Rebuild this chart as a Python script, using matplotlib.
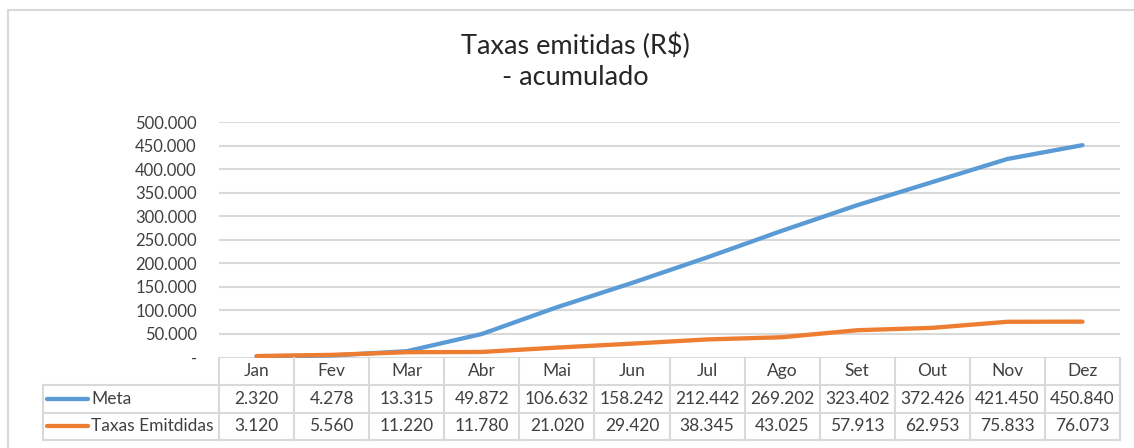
import matplotlib.pyplot as plt
from matplotlib.lines import Line2D
from matplotlib.ticker import FuncFormatter
import matplotlib.transforms as mtransforms

plt.rcParams['font.family'] = ['Lato', 'DejaVu Sans']

# dados
meses = ["Jan", "Fev", "Mar", "Abr", "Mai", "Jun",
         "Jul", "Ago", "Set", "Out", "Nov", "Dez"]
meta = [2320, 4278, 13315, 49872, 106632, 158242,
        212442, 269202, 323402, 372426, 421450, 450840]
taxas = [3120, 5560, 11220, 11780, 21020, 29420,
         38345, 43025, 57913, 62953, 75833, 76073]
series = [("Meta", meta, "#5b9bd5"),
          ("Taxas Emitdidas", taxas, "#ed7d31")]

grid_col = "#d9d9d9"
txt_col = "#404040"


def fmt_br(v, pos=None):
    if v == 0:
        return "-"
    return f"{int(v):,}".replace(",", ".")


fig = plt.figure(figsize=(11.34, 4.48), dpi=100)
ax = fig.add_axes([219 / 1134, 1 - 357.5 / 448, (1120 - 219) / 1134, (357.5 - 122) / 448])

x = list(range(len(meses)))
for nome, vals, cor in series:
    ax.plot(x, vals, color=cor, linewidth=3.1, solid_capstyle="round")

ax.set_xlim(-0.5, len(meses) - 0.5)
ax.set_ylim(0, 500000)
ax.set_yticks(range(0, 500001, 50000))
ax.yaxis.set_major_formatter(FuncFormatter(fmt_br))
ax.tick_params(axis="y", length=0, pad=16, labelsize=12, labelcolor=txt_col)
ax.set_xticks([])
ax.grid(axis="y", color=grid_col, linewidth=1.5)
ax.set_axisbelow(True)
for s in ax.spines.values():
    s.set_visible(False)

# tabela de dados abaixo do grafico
trans = mtransforms.blended_transform_factory(ax.transData, ax.transAxes)
row_h = 27.5 / 235.5
lab_left = -0.5 - 176 / 75.08
n = len(meses)
lw = 1.5

def hline(y, x0, x1):
    ax.add_line(Line2D([x0, x1], [y, y], transform=trans, color=grid_col,
                       linewidth=lw, clip_on=False))

def vline(xv, y0, y1):
    ax.add_line(Line2D([xv, xv], [y0, y1], transform=trans, color=grid_col,
                       linewidth=lw, clip_on=False))

# linhas horizontais
hline(-row_h, lab_left, n - 0.5)
hline(-2 * row_h, lab_left, n - 0.5)
hline(-3 * row_h, lab_left, n - 0.5)
# linhas verticais
for i in range(n + 1):
    vline(i - 0.5, 0, -3 * row_h)
vline(lab_left, -row_h, -3 * row_h)

for i, m in enumerate(meses):
    ax.text(i, -0.5 * row_h, m, transform=trans, ha="center", va="center",
            fontsize=12.5, color=txt_col)

for r, (nome, vals, cor) in enumerate(series):
    yc = -(r + 1.5) * row_h
    ax.add_line(Line2D([lab_left + 0.06, lab_left + 0.6], [yc, yc], transform=trans,
                       color=cor, linewidth=3.1, solid_capstyle="round", clip_on=False))
    ax.text(lab_left + 0.64, yc, nome, transform=trans, ha="left", va="center",
            fontsize=12.5, color=txt_col)
    for i, v in enumerate(vals):
        ax.text(i, yc, fmt_br(v), transform=trans, ha="center", va="center",
                fontsize=12.5, color=txt_col)

# titulo
fig.text(575 / 1134, 1 - 61 / 448, "Taxas emitidas (R$)\n- acumulado",
         ha="center", va="center", multialignment="center",
         fontsize=19.5, color="#262626", linespacing=1.3)

# borda da area do grafico
fig.add_artist(Line2D([7.5 / 1134, 7.5 / 1134], [0, 1 - 10 / 448],
                      transform=fig.transFigure, color=grid_col, linewidth=1.5))
fig.add_artist(Line2D([7.5 / 1134, 1], [1 - 10 / 448, 1 - 10 / 448],
                      transform=fig.transFigure, color=grid_col, linewidth=1.5))

fig.savefig("out.png", dpi=100)
